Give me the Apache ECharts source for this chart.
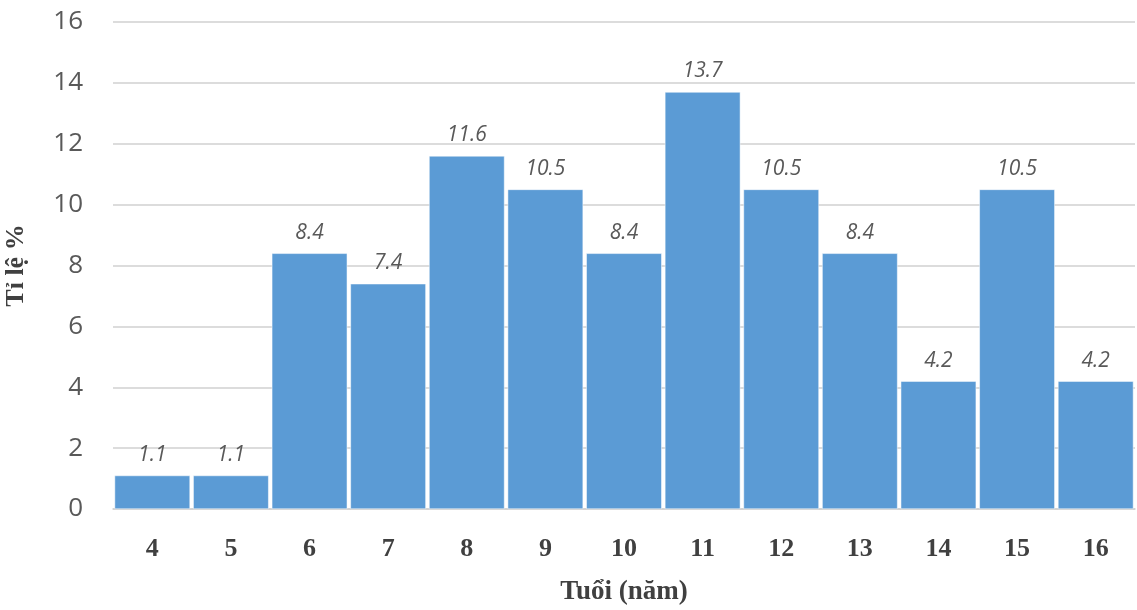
<!DOCTYPE html>
<html>
<head>
<meta charset="utf-8">
<script src="https://cdn.jsdelivr.net/npm/echarts@6/dist/echarts.min.js"></script>
<style>
  html, body { margin: 0; padding: 0; background: #fff; }
  #chart { width: 1137px; height: 610px; }
</style>
</head>
<body>
<div id="chart"></div>
<script>
const ages = ['4', '5', '6', '7', '8', '9', '10', '11', '12', '13', '14', '15', '16'];
const rates = [1.1, 1.1, 8.4, 7.4, 11.6, 10.5, 8.4, 13.7, 10.5, 8.4, 4.2, 10.5, 4.2];

const chart = echarts.init(document.getElementById('chart'), null, { renderer: 'canvas' });

chart.setOption({
  backgroundColor: '#fff',
  animation: false,
  grid: { left: 113, right: 2, top: 22, bottom: 101, outerBoundsMode: 'none', containLabel: false },
  xAxis: {
    type: 'category',
    data: ages,
    name: 'Tuổi (năm)',
    nameLocation: 'middle',
    nameGap: 70,
    nameTextStyle: {
      fontFamily: 'Liberation Serif',
      fontWeight: 'bold',
      fontSize: 27,
      color: '#404040'
    },
    axisLine: { show: true, lineStyle: { color: '#d0d0d0', width: 1.5 } },
    axisTick: { show: false },
    axisLabel: {
      fontFamily: 'Liberation Serif',
      fontWeight: 'bold',
      fontSize: 26,
      color: '#404040',
      margin: 27
    }
  },
  yAxis: {
    type: 'value',
    min: 0,
    max: 16,
    interval: 2,
    name: 'Tỉ lệ %',
    nameLocation: 'middle',
    nameGap: 84,
    nameTextStyle: {
      fontFamily: 'Liberation Serif',
      fontWeight: 'bold',
      fontSize: 26,
      color: '#404040'
    },
    axisLine: { show: false },
    axisTick: { show: false },
    axisLabel: {
      fontFamily: 'Open Sans',
      fontSize: 26,
      color: '#595959',
      margin: 30
    },
    splitLine: { lineStyle: { color: '#d0d0d0', width: 1.5 } }
  },
  series: [{
    type: 'bar',
    data: rates,
    barCategoryGap: '4%',
    itemStyle: { color: '#5B9BD5', borderColor: '#ffffff', borderWidth: 0.5 },
    label: {
      show: true,
      position: 'top',
      distance: 10,
      fontFamily: 'Open Sans',
      fontStyle: 'italic',
      fontSize: 21,
      color: '#595959',
      formatter: p => p.value.toFixed(1)
    }
  }]
});
</script>
</body>
</html>
